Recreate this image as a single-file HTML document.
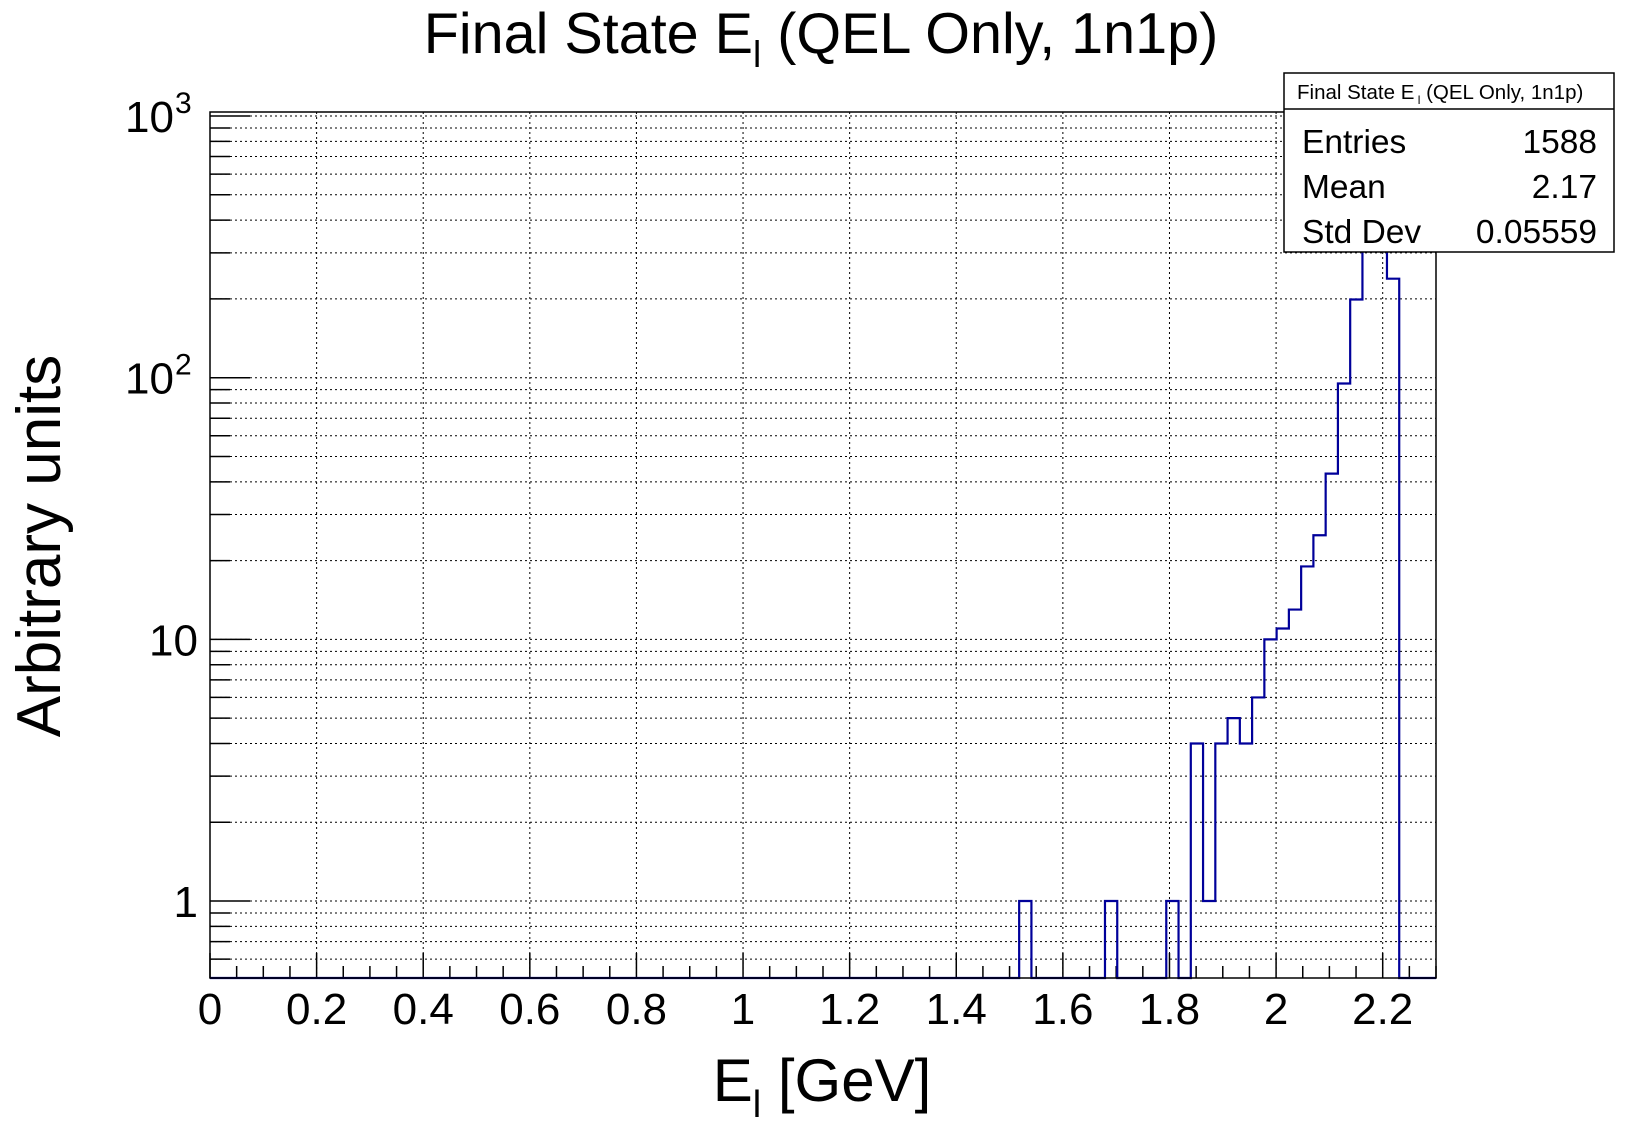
<!DOCTYPE html>
<html><head><meta charset="utf-8"><style>
html,body{margin:0;padding:0;background:#fff;}
svg{display:block;font-family:"Liberation Sans",Arial,sans-serif;}
</style></head><body>
<svg id="chart" width="1646" height="1122" viewBox="0 0 1646 1122" xmlns="http://www.w3.org/2000/svg">
<rect x="0" y="0" width="1646" height="1122" fill="#fff"/>
<text x="821" y="53" font-size="57.5" text-anchor="middle">Final State E<tspan font-size="37" dy="14">l</tspan><tspan dy="-14"> (QEL Only, 1n1p)</tspan></text>
<g id="grid"></g>
<g id="axes"></g>
<path id="hist" fill="none" stroke="#00009a" stroke-width="2.2"/>
<rect x="210" y="112" width="1226" height="866" fill="none" stroke="#000" stroke-width="1.5"/>
<text x="822" y="1101" font-size="60" text-anchor="middle">E<tspan font-size="38" dy="16">l</tspan><tspan dy="-16"> [GeV]</tspan></text>
<text transform="translate(60,546) rotate(-90)" font-size="62" text-anchor="middle">Arbitrary units</text>
<g>
<rect x="1284" y="73" width="330" height="179" fill="#fff" stroke="#000" stroke-width="1.5"/>
<line x1="1284" y1="109" x2="1614" y2="109" stroke="#000" stroke-width="1.5"/>
<text x="1297" y="99" font-size="20.5">Final State E<tspan font-size="12" dy="5"> l</tspan><tspan dy="-5"> (QEL Only, 1n1p)</tspan></text>
<text x="1302" y="153" font-size="33.5">Entries</text>
<text x="1597" y="153" font-size="33.5" text-anchor="end">1588</text>
<text x="1302" y="198" font-size="33.5">Mean</text>
<text x="1597" y="198" font-size="33.5" text-anchor="end">2.17</text>
<text x="1302" y="243" font-size="33.5">Std Dev</text>
<text x="1597" y="243" font-size="33.5" text-anchor="end">0.05559</text>
</g>
</svg>
<script>
// histogram: 100 bins from 0 to 2.3; only non-zero bins listed
const binIndices = [66, 73, 78, 80, 81, 82, 83, 84, 85, 86, 87, 88, 89, 90, 91, 92, 93, 94, 95, 96];
const binCounts  = [1, 1, 1, 4, 1, 4, 5, 4, 6, 10, 11, 13, 19, 25, 43, 95, 199, 420, 487, 239];
const xTickLabels = ["0","0.2","0.4","0.6","0.8","1","1.2","1.4","1.6","1.8","2","2.2"];
const xTickValues = [0,0.2,0.4,0.6,0.8,1,1.2,1.4,1.6,1.8,2,2.2];
const yDecades = [1, 10, 100, 1000];
const yDecadeLabels = ["1","10","10^2","10^3"];

const NBINS = 100, XMIN = 0, XMAX = 2.3;
const L = 210, R = 1436, T = 112, B = 978;
const YMIN = 0.508, YMAX = 1036;
const NS = "http://www.w3.org/2000/svg";
function sx(v){ return L + (v - XMIN) / (XMAX - XMIN) * (R - L); }
function sy(v){ return B - (Math.log10(v) - Math.log10(YMIN)) / (Math.log10(YMAX) - Math.log10(YMIN)) * (B - T); }
function mk(tag, attrs, parent){ const e = document.createElementNS(NS, tag); for (const k in attrs) e.setAttribute(k, attrs[k]); parent.appendChild(e); return e; }

const grid = document.getElementById('grid');
const axes = document.getElementById('axes');

xTickValues.forEach(v => {
  if (v <= XMIN) return;
  const l = mk('line', {x1:sx(v), x2:sx(v), y1:T, y2:B, stroke:'#000', 'stroke-width':1, 'stroke-dasharray':'2,3'}, grid);
  
  
});
const yVals = [];
yDecades.forEach((d, i) => {
  for (let m = 1; m <= 9; m++) {
    yVals.push(d * m);
    if (i === 0) yVals.push(d * m / 10);
  }
});
yVals.forEach(vv => {
  if (vv < YMIN || vv > YMAX) return;
  const y = sy(vv);
  const g = mk('line', {x1:L, x2:R, y1:y, y2:y, stroke:'#000', 'stroke-width':1, 'stroke-dasharray':'2,3'}, grid);
  
  
  const major = Math.abs(Math.log10(vv) - Math.round(Math.log10(vv))) < 1e-9;
  const t = mk('line', {x1:L, x2:L + (major ? 40 : 20), y1:y, y2:y, stroke:'#000', 'stroke-width':1.5}, axes);
  
  
});
yDecades.forEach((d, i) => {
  const y = sy(d);
  const lab = yDecadeLabels[i];
  const t = mk('text', {x:198, y:y + 16, 'font-size':44, 'text-anchor':'end'}, axes);
  
  
  if (lab.indexOf('^') >= 0) {
    const p = lab.split('^');
    t.setAttribute('x', 174);
    t.textContent = p[0];
    const s = mk('text', {x:175, y:y - 3, 'font-size':30, 'text-anchor':'start'}, axes);
    
    
    s.textContent = p[1];
  } else t.textContent = lab;
});
for (let k = 0; k * 0.05 <= XMAX + 1e-9; k++) {
  const v = k * 0.05;
  const major = k % 4 === 0;
  const tk = mk('line', {x1:sx(v), x2:sx(v), y1:B, y2:B - (major ? 25 : 12), stroke:'#000', 'stroke-width':1.5}, axes);
  
  
}
xTickValues.forEach((v, i) => {
  const t = mk('text', {x:sx(v), y:1024, 'font-size':44, 'text-anchor':'middle'}, axes);
  
  
  t.textContent = xTickLabels[i];
});

const counts = new Array(NBINS).fill(0);
binIndices.forEach((b, i) => { counts[b] = binCounts[i]; });
const bw = (XMAX - XMIN) / NBINS;
function yOf(c){ return c > 0 ? Math.max(T, sy(c)) : B; }
let d = 'M' + sx(XMIN) + ',' + B;
for (let b = 0; b < NBINS; b++) {
  const y = yOf(counts[b]);
  d += ' L' + sx(XMIN + b * bw) + ',' + y + ' L' + sx(XMIN + (b + 1) * bw) + ',' + y;
}
d += ' L' + sx(XMAX) + ',' + B;
document.getElementById('hist').setAttribute('d', d);
</script>
</body></html>
